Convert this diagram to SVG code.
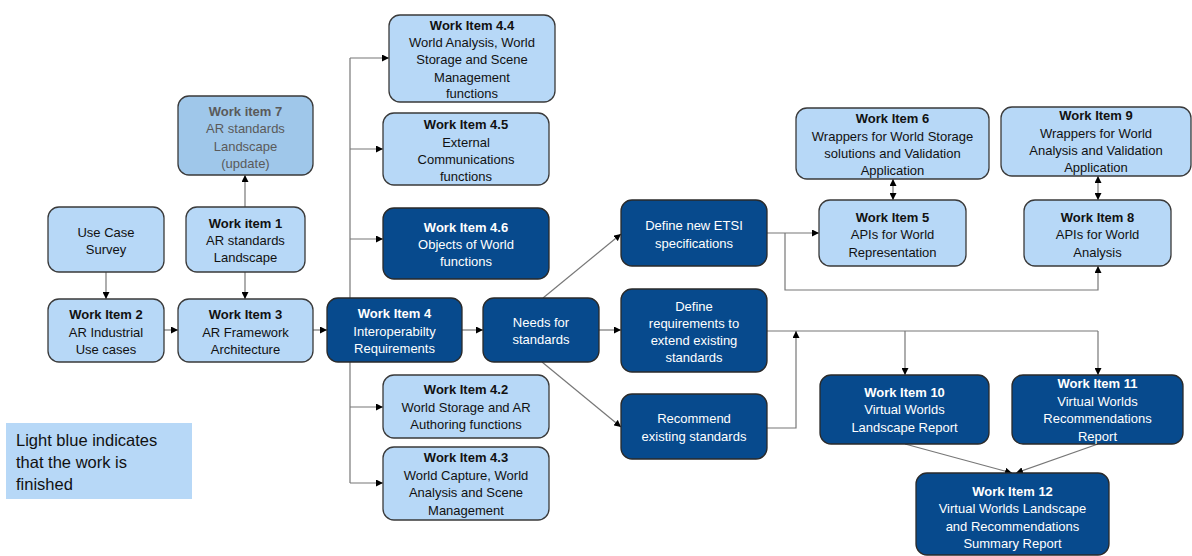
<svg xmlns="http://www.w3.org/2000/svg" width="1192" height="556" viewBox="0 0 1192 556">
<defs>
<marker id="ah" viewBox="0 0 10 10" refX="10" refY="5" markerWidth="7" markerHeight="7" markerUnits="userSpaceOnUse" orient="auto-start-reverse">
<path d="M0,0 L10,5 L0,10 z" fill="#000"/>
</marker>
<style>
.lt{fill:#b7d8f7;stroke:#3a3a3a;stroke-width:1.3}
.lt7{fill:#9fc7ea;stroke:#3a3a3a;stroke-width:1.3}
.dk{fill:#074a8d;stroke:#2a2a2a;stroke-width:1.3}
text{font-family:"Liberation Sans",Arial,sans-serif;font-size:13px;text-anchor:middle}
.b{font-weight:bold}
.tl{fill:#111}
.tg{fill:#5a5a5a}
.tw{fill:#fff}
.c{fill:none;stroke:#777;stroke-width:1.2}
.ca{fill:none;stroke:#777;stroke-width:1.2;marker-end:url(#ah)}
.leg{font-size:16.5px;text-anchor:start;fill:#111}
</style>
</defs>
<rect width="1192" height="556" fill="#fff"/>

<g id="connectors">
<path class="ca" d="M106,272 V299"/>
<path class="ca" d="M245,272 V299"/>
<path class="ca" d="M245,207 V175"/>
<path class="ca" d="M164,330 H178"/>
<path class="ca" d="M313,330 H327"/>
<path class="ca" d="M462,330 H483"/>
<path class="ca" d="M599,330 H621"/>
<path class="c" d="M350,58 V483"/>
<path class="ca" d="M350,58 H389"/>
<path class="ca" d="M350,149 H383"/>
<path class="ca" d="M350,239 H383"/>
<path class="ca" d="M350,407 H383"/>
<path class="ca" d="M350,483 H383"/>
<path class="ca" d="M543,298 L621,234"/>
<path class="ca" d="M542,362 L621,427"/>
<path class="ca" d="M767,233 H819"/>
<path class="ca" d="M785,233 V290 H1098 V266"/>
<path class="c" d="M767,331 H1098"/>
<path class="ca" d="M905,331 V375"/>
<path class="ca" d="M1098,331 V375"/>
<path class="ca" d="M767,428 H796 V331"/>
<path class="ca" style="marker-start:url(#ah)" d="M893,179 V200"/>
<path class="ca" style="marker-start:url(#ah)" d="M1098,176 V200"/>
<path class="ca" d="M905,444 L1012,473"/>
<path class="ca" d="M1098,444 L1016,473"/>
</g>

<g id="wi7">
<rect class="lt7" x="178" y="96" width="135" height="79" rx="11"/>
<text class="tg b" x="245.5" y="115.5">Work item 7</text>
<text class="tg" x="245.5" y="133">AR standards</text>
<text class="tg" x="245.5" y="150.5">Landscape</text>
<text class="tg" x="245.5" y="168">(update)</text>
</g>
<g id="usecase">
<rect class="lt" x="48" y="207" width="116" height="65" rx="11"/>
<text class="tl" x="106" y="236.5">Use Case</text>
<text class="tl" x="106" y="254">Survey</text>
</g>
<g id="wi1">
<rect class="lt" x="186" y="207" width="119" height="65" rx="11"/>
<text class="tl b" x="245.5" y="227.5">Work item 1</text>
<text class="tl" x="245.5" y="245">AR standards</text>
<text class="tl" x="245.5" y="262">Landscape</text>
</g>
<g id="wi2">
<rect class="lt" x="48" y="299" width="116" height="63" rx="11"/>
<text class="tl b" x="106" y="318.5">Work Item 2</text>
<text class="tl" x="106" y="336.5">AR Industrial</text>
<text class="tl" x="106" y="353.5">Use cases</text>
</g>
<g id="wi3">
<rect class="lt" x="178" y="299" width="135" height="63" rx="11"/>
<text class="tl b" x="245.5" y="318.5">Work Item 3</text>
<text class="tl" x="245.5" y="336.5">AR Framework</text>
<text class="tl" x="245.5" y="353.5">Architecture</text>
</g>
<g id="wi4">
<rect class="dk" x="327" y="298" width="135" height="64" rx="11"/>
<text class="tw b" x="394.5" y="317.5">Work Item 4</text>
<text class="tw" x="394.5" y="335.5">Interoperabilty</text>
<text class="tw" x="394.5" y="352.5">Requirements</text>
</g>
<g id="needs">
<rect class="dk" x="483" y="298" width="116" height="64" rx="11"/>
<text class="tw" x="541" y="326.5">Needs for</text>
<text class="tw" x="541" y="343.5">standards</text>
</g>
<g id="wi44">
<rect class="lt" x="389" y="15" width="166" height="87" rx="11"/>
<text class="tl b" x="472" y="29.5">Work Item 4.4</text>
<text class="tl" x="472" y="46.5">World Analysis, World</text>
<text class="tl" x="472" y="64">Storage and Scene</text>
<text class="tl" x="472" y="81.5">Management</text>
<text class="tl" x="472" y="98">functions</text>
</g>
<g id="wi45">
<rect class="lt" x="383" y="113" width="166" height="72" rx="11"/>
<text class="tl b" x="466" y="128.5">Work Item 4.5</text>
<text class="tl" x="466" y="146.5">External</text>
<text class="tl" x="466" y="163.5">Communications</text>
<text class="tl" x="466" y="180.5">functions</text>
</g>
<g id="wi46">
<rect class="dk" x="383" y="208" width="166" height="71" rx="11"/>
<text class="tw b" x="466" y="231.5">Work Item 4.6</text>
<text class="tw" x="466" y="248.5">Objects of World</text>
<text class="tw" x="466" y="266">functions</text>
</g>
<g id="wi42">
<rect class="lt" x="383" y="375" width="166" height="63" rx="11"/>
<text class="tl b" x="466" y="393.5">Work Item 4.2</text>
<text class="tl" x="466" y="411.5">World Storage and AR</text>
<text class="tl" x="466" y="428.5">Authoring functions</text>
</g>
<g id="wi43">
<rect class="lt" x="383" y="447" width="166" height="73" rx="11"/>
<text class="tl b" x="466" y="461.5">Work Item 4.3</text>
<text class="tl" x="466" y="479.5">World Capture, World</text>
<text class="tl" x="466" y="496.5">Analysis and Scene</text>
<text class="tl" x="466" y="514.5">Management</text>
</g>
<g id="etsi">
<rect class="dk" x="621" y="200" width="146" height="66" rx="11"/>
<text class="tw" x="694" y="229.5">Define new ETSI</text>
<text class="tw" x="694" y="247.5">specifications</text>
</g>
<g id="definereq">
<rect class="dk" x="621" y="289" width="146" height="83" rx="11"/>
<text class="tw" x="694" y="310.5">Define</text>
<text class="tw" x="694" y="327.5">requirements to</text>
<text class="tw" x="694" y="344.5">extend existing</text>
<text class="tw" x="694" y="361.5">standards</text>
</g>
<g id="recommend">
<rect class="dk" x="621" y="394" width="146" height="65" rx="11"/>
<text class="tw" x="694" y="422.5">Recommend</text>
<text class="tw" x="694" y="440.5">existing standards</text>
</g>
<g id="wi6">
<rect class="lt" x="796" y="108" width="193" height="71" rx="11"/>
<text class="tl b" x="892.5" y="122.5">Work Item 6</text>
<text class="tl" x="892.5" y="140.5">Wrappers for World Storage</text>
<text class="tl" x="892.5" y="157.5">solutions and Validation</text>
<text class="tl" x="892.5" y="175">Application</text>
</g>
<g id="wi9">
<rect class="lt" x="1001" y="107" width="190" height="69" rx="11"/>
<text class="tl b" x="1096" y="119.5">Work Item 9</text>
<text class="tl" x="1096" y="137.5">Wrappers for World</text>
<text class="tl" x="1096" y="154.5">Analysis and Validation</text>
<text class="tl" x="1096" y="171.5">Application</text>
</g>
<g id="wi5">
<rect class="lt" x="819" y="200" width="147" height="66" rx="11"/>
<text class="tl b" x="892.5" y="221.5">Work Item 5</text>
<text class="tl" x="892.5" y="238.5">APIs for World</text>
<text class="tl" x="892.5" y="256.5">Representation</text>
</g>
<g id="wi8">
<rect class="lt" x="1024" y="200" width="147" height="66" rx="11"/>
<text class="tl b" x="1097.5" y="221.5">Work Item 8</text>
<text class="tl" x="1097.5" y="238.5">APIs for World</text>
<text class="tl" x="1097.5" y="256.5">Analysis</text>
</g>
<g id="wi10">
<rect class="dk" x="820" y="375" width="169" height="69" rx="11"/>
<text class="tw b" x="904.5" y="396.5">Work Item 10</text>
<text class="tw" x="904.5" y="413.5">Virtual Worlds</text>
<text class="tw" x="904.5" y="431.5">Landscape Report</text>
</g>
<g id="wi11">
<rect class="dk" x="1012" y="375" width="171" height="69" rx="11"/>
<text class="tw b" x="1097.5" y="387.5">Work Item 11</text>
<text class="tw" x="1097.5" y="405.5">Virtual Worlds</text>
<text class="tw" x="1097.5" y="422.5">Recommendations</text>
<text class="tw" x="1097.5" y="440.5">Report</text>
</g>
<g id="wi12">
<rect class="dk" x="916" y="473" width="193" height="82" rx="11"/>
<text class="tw b" x="1012.5" y="495.5">Work Item 12</text>
<text class="tw" x="1012.5" y="512.5">Virtual Worlds Landscape</text>
<text class="tw" x="1012.5" y="530.5">and Recommendations</text>
<text class="tw" x="1012.5" y="547.5">Summary Report</text>
</g>
<g id="legend">
<rect x="6" y="423" width="186" height="76" fill="#b7d8f7"/>
<text class="leg" x="16" y="446">Light blue indicates</text>
<text class="leg" x="16" y="468">that the work is</text>
<text class="leg" x="16" y="490">finished</text>
</g>
</svg>
